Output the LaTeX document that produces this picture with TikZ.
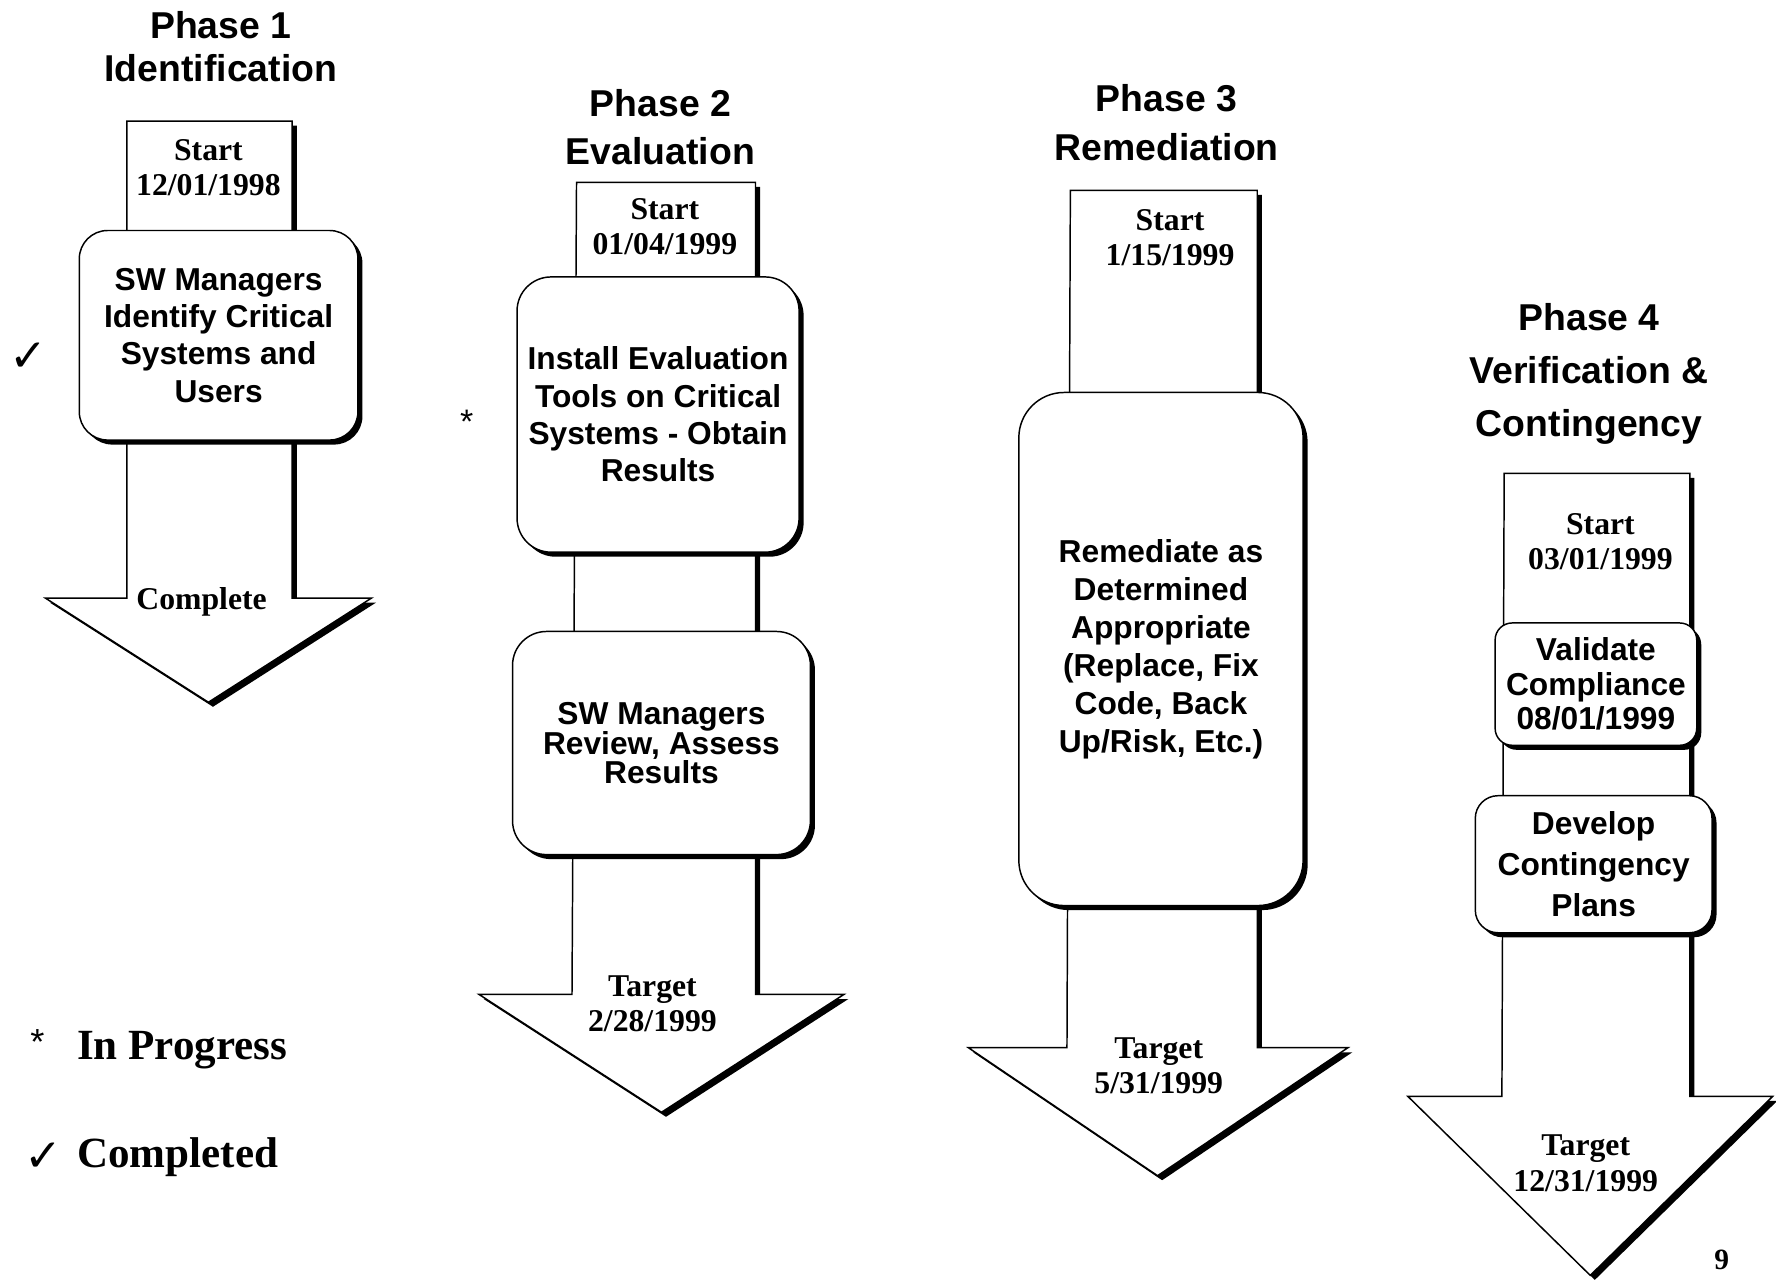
\documentclass[tikz,border=0pt]{standalone}
\usepackage{fontspec}
\setmainfont{Liberation Serif}
\setsansfont{Liberation Sans}
\newfontfamily\symfont{DejaVu Sans}
\usetikzlibrary{shadows}

\begin{document}
\begin{tikzpicture}[x=1pt,y=-1pt,
  shad/.style={drop shadow={shadow xshift=4pt,shadow yshift=-4pt,opacity=1,fill=black}},
  arrowshape/.style={draw=black, line width=1.3pt, fill=white, shad, line join=miter},
  taskbox/.style={draw=black, line width=1.3pt, fill=white, shad, align=center, inner sep=0pt,
    font=\sffamily\bfseries\fontsize{28}{33}\selectfont},
  title/.style={align=center, inner sep=0pt},
  datetext/.style={align=center, inner sep=0pt, font=\rmfamily\bfseries\fontsize{28}{31}\selectfont},
  legendtext/.style={anchor=west, inner sep=0pt, font=\rmfamily\bfseries\fontsize{38}{40}\selectfont},
  checkmark/.style={inner sep=0pt, font=\symfont\fontsize{40}{40}\selectfont},
]
\useasboundingbox[fill=white] (0,0) rectangle (1568,1130);

% ---------- Phase 1 ----------
\node[title, font=\sffamily\bfseries\fontsize{33}{38}\selectfont] (p1title) at (195,41) {Phase 1\\Identification};
\path[arrowshape] (112,107) -- (258,107) -- (258,528) -- (328,528) -- (184,620) -- (40,528) -- (112,528) -- cycle;
\node[datetext] (p1start) at (184,148) {Start\\12/01/1998};
\node[taskbox, minimum width=246pt, minimum height=185pt, rounded corners=25pt] (p1task) at (193,296)
  {SW Managers\\Identify Critical\\Systems and\\Users};
\node[datetext] (p1end) at (178,531) {Complete};
\node[checkmark] (p1mark) at (25,315) {✓};

% ---------- Phase 2 ----------
\node[title, font=\sffamily\bfseries\fontsize{33}{42}\selectfont] (p2title) at (583,112) {Phase 2\\Evaluation};
\path[arrowshape] (509,161) -- (667,161) -- (667,878) -- (745,878) -- (584,982) -- (423,878) -- (505,878) -- cycle;
\node[datetext] (p2start) at (587,200) {Start\\01/04/1999};
\node[taskbox, minimum width=249pt, minimum height=243pt, rounded corners=30pt] (p2task1) at (581,366)
  {Install Evaluation\\Tools on Critical\\Systems - Obtain\\Results};
\node[taskbox, minimum width=263pt, minimum height=197pt, rounded corners=30pt,
  font=\sffamily\bfseries\fontsize{28}{23}\selectfont] (p2task2) at (584,656)
  {SW Managers\\Review, Assess\\Results};
\node[datetext] (p2end) at (576,886) {Target\\2/28/1999};
\node[inner sep=0pt, font=\sffamily\fontsize{30}{30}\selectfont] (p2mark) at (412,372) {*};

% ---------- Phase 3 ----------
\node[title, font=\sffamily\bfseries\fontsize{33}{43}\selectfont] (p3title) at (1030,108) {Phase 3\\Remediation};
\path[arrowshape] (945,168) -- (1110,168) -- (1110,925) -- (1190,925) -- (1022,1038) -- (855,925) -- (942,925) -- cycle;
\node[datetext] (p3start) at (1033,210) {Start\\1/15/1999};
\node[taskbox, minimum width=251pt, minimum height=453pt, rounded corners=40pt,
  font=\sffamily\bfseries\fontsize{28}{33.5}\selectfont] (p3task) at (1025,573)
  {Remediate as\\Determined\\Appropriate\\(Replace, Fix\\Code, Back\\Up/Risk, Etc.)};
\node[datetext] (p3end) at (1023,941) {Target\\5/31/1999};

% ---------- Phase 4 ----------
\node[title, font=\sffamily\bfseries\fontsize{33}{46.5}\selectfont] (p4title) at (1403,330) {Phase 4\\Verification \&\\Contingency};
\path[arrowshape] (1328,418) -- (1492,418) -- (1492,968) -- (1565,968) -- (1404,1126) -- (1243,968) -- (1326,968) -- cycle;
\node[datetext] (p4start) at (1413,478) {Start\\03/01/1999};
\node[taskbox, minimum width=178pt, minimum height=108pt, rounded corners=15pt,
  font=\sffamily\bfseries\fontsize{28}{30.5}\selectfont] (p4task1) at (1409,604)
  {Validate\\Compliance\\08/01/1999};
\node[taskbox, minimum width=209pt, minimum height=121pt, rounded corners=20pt,
  font=\sffamily\bfseries\fontsize{28}{36}\selectfont] (p4task2) at (1407,763)
  {Develop\\Contingency\\Plans};
\node[datetext] (p4end) at (1400,1027) {Target\\12/31/1999};

% ---------- Legend ----------
\node[inner sep=0pt, font=\sffamily\fontsize{32}{32}\selectfont] (lgstar) at (33,920) {*};
\node[legendtext] (lgprog) at (68,927) {In Progress};
\node[checkmark] (lgcheck) at (38,1022) {✓};
\node[legendtext] (lgdone) at (68,1022) {Completed};

\node[inner sep=0pt, font=\rmfamily\bfseries\fontsize{26}{26}\selectfont] (pagenum) at (1520,1112) {9};
\end{tikzpicture}
\end{document}
